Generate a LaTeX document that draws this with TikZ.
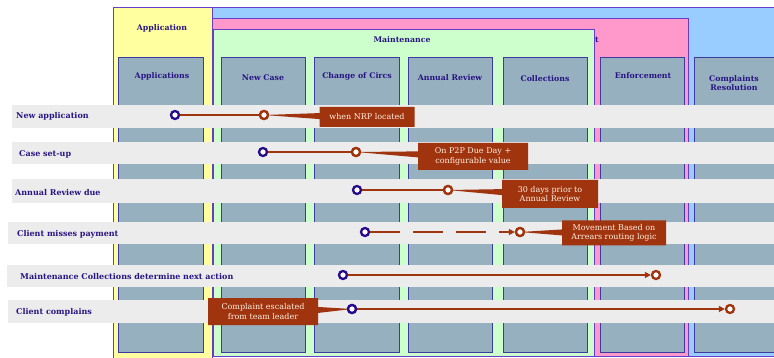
\documentclass[tikz,border=0pt]{standalone}
\usepackage{fontspec}
\setmainfont{DejaVu Serif}
\usetikzlibrary{shapes.callouts,arrows.meta}
\definecolor{frameyellow}{RGB}{255,255,160}
\definecolor{frameblue}{RGB}{153,204,255}
\definecolor{framepink}{RGB}{255,153,204}
\definecolor{framegreen}{RGB}{204,255,204}
\definecolor{framebord}{RGB}{102,60,200}
\definecolor{colfill}{RGB}{150,176,192}
\definecolor{colbord}{RGB}{60,60,160}
\definecolor{bandgrey}{RGB}{236,236,236}
\definecolor{navy}{RGB}{40,20,130}
\definecolor{rust}{RGB}{160,52,14}
\definecolor{ringblue}{RGB}{40,10,140}
\definecolor{notewhite}{RGB}{255,240,225}
\tikzset{
  x=1pt,y=-1pt,
  frame/.style={draw=framebord,line width=1pt},
  colbox/.style={draw=colbord,fill=colfill,line width=1pt},
  band/.style={fill=bandgrey},
  hdr/.style={font=\fontsize{7.8}{9.5}\selectfont\bfseries,text=navy,align=center,inner sep=0pt},
  rowlabel/.style={font=\fontsize{8}{9}\selectfont\bfseries,text=navy,anchor=west,inner sep=0pt},
  startpt/.style={circle,draw=ringblue,fill=white,line width=2.3pt,minimum size=8pt,inner sep=0pt},
  endpt/.style={circle,draw=rust,fill=white,line width=2.3pt,minimum size=8pt,inner sep=0pt},
  link/.style={draw=rust,line width=1.2pt},
  flow/.style={draw=rust,line width=2.4pt,-{Triangle[length=6pt,width=6pt]}},
  note/.style={rectangle callout,fill=rust,text=notewhite,font=\fontsize{8}{9.5}\selectfont,align=center,callout pointer width=6pt,inner sep=1pt}
}
\begin{document}
\begin{tikzpicture}
\useasboundingbox (0,0) rectangle (774,358);
\clip (0,0) rectangle (774,358);
% frames
\filldraw[frame,fill=frameblue] (212,8) rectangle (790,356);
\filldraw[frame,fill=frameyellow] (113,8) rectangle (212,370);
\filldraw[frame,fill=framepink] (212,19) rectangle (688,356);
\filldraw[frame,fill=framegreen] (213,30) rectangle (594,356);
\node[hdr] (happ) at (162,28) {Application};
\node[hdr] (hmaint) at (402,40) {Maintenance};
\node[hdr] (hpink) at (597,40) {t};
% columns
\filldraw[colbox] (118,58) rectangle (203,352);
\filldraw[colbox] (221,58) rectangle (305,352);
\filldraw[colbox] (314,58) rectangle (399,352);
\filldraw[colbox] (408,58) rectangle (492,352);
\filldraw[colbox] (503,58) rectangle (587,352);
\filldraw[colbox] (600,58) rectangle (684,352);
\filldraw[colbox] (694,58) rectangle (790,352);
\node[hdr] (c1) at (162,76) {Applications};
\node[hdr] (c2) at (263,78) {New Case};
\node[hdr] (c3) at (357,76) {Change of Circs};
\node[hdr] (c4) at (450,78) {Annual Review};
\node[hdr] (c5) at (545,79) {Collections};
\node[hdr] (c6) at (643,76) {Enforcement};
\node[hdr] (c7) at (734,83) {Complaints\\Resolution};
% bands
\fill[band] (12,105) rectangle (774,128);
\fill[band] (12,142) rectangle (774,164);
\fill[band] (12,179) rectangle (774,203);
\fill[band] (8,222) rectangle (774,244);
\fill[band] (7,265) rectangle (774,287);
\fill[band] (8,300) rectangle (774,323);
% row labels
\node[rowlabel] (r1) at (16,116) {New application};
\node[rowlabel] (r2) at (19,154) {Case set-up};
\node[rowlabel] (r3) at (15,193) {Annual Review due};
\node[rowlabel] (r4) at (17,234) {Client misses payment};
\node[rowlabel] (r5) at (20,277) {Maintenance Collections determine next action};
\node[rowlabel] (r6) at (16,312) {Client complains};
% points
\node[startpt] (b1) at (175,115) {};
\node[endpt] (e1) at (264,115) {};
\node[startpt] (b2) at (263,152) {};
\node[endpt] (e2) at (356,152) {};
\node[startpt] (b3) at (357,190) {};
\node[endpt] (e3) at (448,190) {};
\node[startpt] (b4) at (365,232) {};
\node[endpt] (e4) at (520,232) {};
\node[startpt] (b5) at (343,275) {};
\node[endpt] (e5) at (656,275) {};
\node[startpt] (b6) at (352,309) {};
\node[endpt] (e6) at (730,309) {};
% connectors
\draw[link] (b1) -- (e1);
\draw[link] (b2) -- (e2);
\draw[link] (b3) -- (e3);
\draw[flow,dash pattern=on 30pt off 13pt] (b4) -- (e4);
\draw[flow] (b5) -- (e5);
\draw[flow,line width=1.6pt] (b6) -- (e6);
% callouts
\node[note,minimum width=95,minimum height=20,callout absolute pointer={(e1.center)}] (n1) at (367,117) {when NRP located};
\node[note,minimum width=110,minimum height=27,callout absolute pointer={(e2.center)}] (n2) at (473,156.5) {On P2P Due Day +\\configurable value};
\node[note,minimum width=96,minimum height=28,callout absolute pointer={(e3.center)}] (n3) at (550,194) {30 days prior to\\Annual Review};
\node[note,minimum width=104,minimum height=25,callout absolute pointer={(e4.center)}] (n4) at (614,233) {Movement Based on\\Arrears routing logic};
\node[note,minimum width=110,minimum height=27,callout absolute pointer={(b6.center)}] (n6) at (263,311.5) {Complaint escalated\\from team leader};
% redraw circles over pointers
\node[endpt] (e1x) at (e1) {};
\node[endpt] (e2x) at (e2) {};
\node[endpt] (e3x) at (e3) {};
\node[endpt] (e4x) at (e4) {};
\node[startpt] (b6x) at (b6) {};
\end{tikzpicture}
\end{document}
